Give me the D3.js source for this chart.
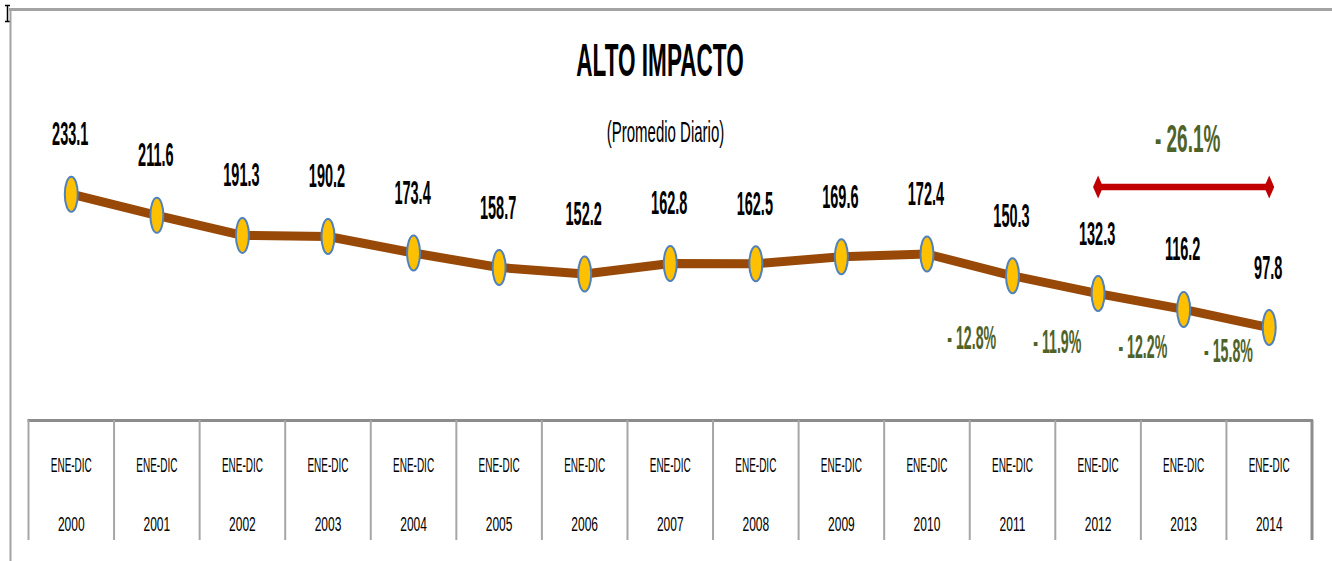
<!DOCTYPE html>
<html>
<head>
<meta charset="utf-8">
<script src="https://cdn.jsdelivr.net/npm/d3@7"></script>
<style>
	html, body { margin: 0; padding: 0; background: #fff; }
	svg { display: block; }
	text { font-family: "Liberation Sans", Arial, sans-serif; }
</style>
</head>
<body>
<svg id="chart"></svg>
<script>
// data
var years = ["2000", "2001", "2002", "2003", "2004", "2005", "2006", "2007", "2008", "2009", "2010", "2011", "2012", "2013", "2014"];
var periods = ["ENE-DIC", "ENE-DIC", "ENE-DIC", "ENE-DIC", "ENE-DIC", "ENE-DIC", "ENE-DIC", "ENE-DIC", "ENE-DIC", "ENE-DIC", "ENE-DIC", "ENE-DIC", "ENE-DIC", "ENE-DIC", "ENE-DIC"];
var values = [233.1, 211.6, 191.3, 190.2, 173.4, 158.7, 152.2, 162.8, 162.5, 169.6, 172.4, 150.3, 132.3, 116.2, 97.8];
// yearly change, shown between a year and the one before it
var changeYears = ["2011", "2012", "2013", "2014"];
var changeLabels = ["- 12.8%", "- 11.9%", "- 12.2%", "- 15.8%"];
// change over the span marked by the red arrow
var spanFrom = "2012", spanTo = "2014", spanLabel = "- 26.1%";

var W = 1332, H = 561;
var svg = d3.select("#chart").attr("width", W).attr("height", H);

var x = d3.scaleBand()
	.domain(years)
	.range([28.5, 1312])
	.padding(0);
var cx = function(d) { return x(d) + x.bandwidth() / 2; };

var y = d3.scaleLinear()
	.domain([0, 250])
	.range([424, 177.5]);

// squashed text, the source picture is stretched tall
function label(g, px, py, txt, size, sx, weight, fill) {
	return g.append("text")
		.attr("transform", "translate(" + px + "," + py + ") scale(" + sx + ",1)")
		.attr("text-anchor", "middle")
		.attr("font-size", size)
		.attr("font-weight", weight || "normal")
		.attr("fill", fill || "#000")
		.text(txt);
}

// bits of the page round the chart
svg.append("path")
	.attr("d", "M5,5.5H10M7.5,5.5V21.5M5,21.5H10")
	.attr("fill", "none")
	.attr("stroke", "#000")
	.attr("stroke-width", 1.5);
svg.append("line")
	.attr("x1", 9).attr("x2", W).attr("y1", 9.5).attr("y2", 9.5)
	.attr("stroke", "#a3a3a3").attr("stroke-width", 3);
svg.append("line")
	.attr("x1", 10.5).attr("x2", 10.5).attr("y1", 8).attr("y2", H)
	.attr("stroke", "#a3a3a3").attr("stroke-width", 2);

// titles
label(svg, 660, 76, "ALTO IMPACTO", 46, 0.49, "bold");
label(svg, 665.5, 142, "(Promedio Diario)", 30, 0.5);

// table under the chart
var table = svg.append("g");
table.append("line")
	.attr("x1", x.range()[0] - 1).attr("x2", x.range()[1] + 1)
	.attr("y1", 420.5).attr("y2", 420.5)
	.attr("stroke", "#8c8c8c").attr("stroke-width", 3);
table.selectAll(".sep")
	.data(years.concat(["end"]))
	.enter().append("line")
	.attr("class", "sep")
	.attr("x1", function(d, i) { return x.range()[0] + i * x.bandwidth(); })
	.attr("x2", function(d, i) { return x.range()[0] + i * x.bandwidth(); })
	.attr("y1", 420).attr("y2", 540)
	.attr("stroke", function(d, i) { return i == years.length ? "#8c8c8c" : "#a6a6a6"; })
	.attr("stroke-width", function(d, i) { return i == years.length ? 3 : 2; });
years.forEach(function(yr, i) {
	label(table, cx(yr), 472, periods[i], 20, 0.5);
	label(table, cx(yr), 531, yr, 20, 0.6);
});

// the line
var line = d3.line()
	.x(function(d, i) { return cx(years[i]); })
	.y(function(d) { return y(d); });

svg.append("path")
	.datum(values)
	.attr("d", line)
	.attr("fill", "none")
	.attr("stroke", "#984807")
	.attr("stroke-width", 9)
	.attr("stroke-linejoin", "round");

svg.selectAll(".point")
	.data(values)
	.enter().append("ellipse")
	.attr("class", "point")
	.attr("cx", function(d, i) { return cx(years[i]); })
	.attr("cy", function(d) { return y(d); })
	.attr("rx", 6.5)
	.attr("ry", 17.5)
	.attr("fill", "#ffc000")
	.attr("stroke", "#4f81bd")
	.attr("stroke-width", 2);

// value labels
values.forEach(function(v, i) {
	label(svg, cx(years[i]) - 1, y(v) - 49, v.toFixed(1), 33, 0.44, "bold");
});

// yearly change labels
changeYears.forEach(function(yr, i) {
	label(svg, cx(yr) - x.bandwidth() / 2 + 2, 349 + i * 4.4, changeLabels[i], 33, 0.43, "bold", "#4f6228");
});

// span arrow
var ax1 = cx(spanFrom) - 5, ax2 = cx(spanTo) + 5, ay = 187;
svg.append("line")
	.attr("x1", ax1 + 4).attr("x2", ax2 - 4).attr("y1", ay).attr("y2", ay)
	.attr("stroke", "#c00000").attr("stroke-width", 6.5);
[[ax1, 1], [ax2, -1]].forEach(function(p) {
	svg.append("path")
		.attr("d", "M" + p[0] + "," + ay + "l" + (5 * p[1]) + ",-11.5l" + (5 * p[1]) + ",11.5l" + (-5 * p[1]) + ",11.5z")
		.attr("fill", "#c00000");
});
label(svg, (cx(spanFrom) + cx(spanTo)) / 2 + 4, 152, spanLabel, 38, 0.5, "bold", "#4f6228");
</script>
</body>
</html>
